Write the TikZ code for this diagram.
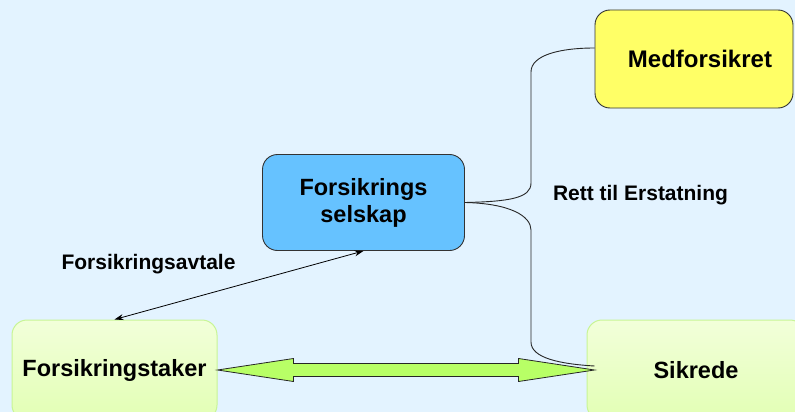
\documentclass[tikz,border=0pt]{standalone}
\usepackage{fontspec}
\setmainfont{Liberation Sans}
\usetikzlibrary{arrows.meta,calc}
\definecolor{bgblue}{RGB}{227,243,255}
\definecolor{selblue}{RGB}{102,194,255}
\definecolor{medyellow}{RGB}{255,255,102}
\definecolor{greentop}{RGB}{242,255,218}
\definecolor{greenbot}{RGB}{226,255,180}
\definecolor{greenline}{RGB}{200,245,150}
\definecolor{arrowgreen}{RGB}{184,255,102}
\tikzset{
  bigtext/.style={font=\bfseries\fontsize{23.5}{27}\selectfont, align=center},
  smalltext/.style={font=\bfseries\fontsize{21}{24}\selectfont},
  box/.style={rounded corners=15pt, inner sep=0pt, bigtext},
  darkbox/.style={box, draw=black!80, line width=0.9pt},
  greenbox/.style={box, draw=greenline, line width=1pt, top color=greentop, bottom color=greenbot},
  thinlink/.style={line width=0.8pt, {Stealth[length=9pt,width=6pt]}-{Stealth[length=9pt,width=6pt]}},
  bracket/.style={line width=0.9pt, black!85},
}
\begin{document}
\begin{tikzpicture}[x=1pt,y=-1pt]
\useasboundingbox (0,0) rectangle (795,412);
\clip (0,0) rectangle (795,412);
\fill[bgblue] (0,0) rectangle (795,412);

\node[darkbox, fill=selblue, minimum width=202pt, minimum height=96pt] (sel) at (363.5,202.5) {Forsikrings\\selskap};
\node[darkbox, fill=medyellow, minimum width=198pt, minimum height=98pt, text depth=0pt, font=\bfseries\fontsize{24}{27}\selectfont] (med) at (694,59) {\hspace*{12pt}Medforsikret};
\node[greenbox, minimum width=205pt, minimum height=100pt] (ft) at (114.5,370) {Forsikringstaker};
\node[greenbox, minimum width=218pt, minimum height=100pt] (sk) at (696,370) {Sikrede};

\node[smalltext] (avt) at (148.5,264) {Forsikringsavtale};
\node[smalltext] (rett) at (640.5,195) {Rett til Erstatning};

% bracket
\draw[bracket] (sel.east) .. controls ($(sel.east)+(45,-1)$) and (531,198) .. (531,183)
  -- (531,72) .. controls (531,55) and (560,48) .. (med.west |- 0,48);
\draw[bracket] (sel.east) .. controls ($(sel.east)+(45,1)$) and (531,216) .. (531,230)
  -- (531,342) .. controls (531,358) and (560,364) .. ($(sk.west)+(8,-4)$);

% thin double arrow
\draw[thinlink] (ft.north) -- (sel.south);

% big green double arrow
\filldraw[fill=arrowgreen, draw=black!85, line width=0.8pt]
  (ft.east) -- ($(ft.east)+(76,-11.5)$) -- ($(ft.east)+(76,-6.5)$)
  -- ($(sk.west)+(-68,-6.5)$) -- ($(sk.west)+(-68,-11.5)$) -- ($(sk.west)+(8,0)$)
  -- ($(sk.west)+(-68,11.5)$) -- ($(sk.west)+(-68,6.5)$)
  -- ($(ft.east)+(76,6.5)$) -- ($(ft.east)+(76,11.5)$) -- cycle;
\end{tikzpicture}
\end{document}
